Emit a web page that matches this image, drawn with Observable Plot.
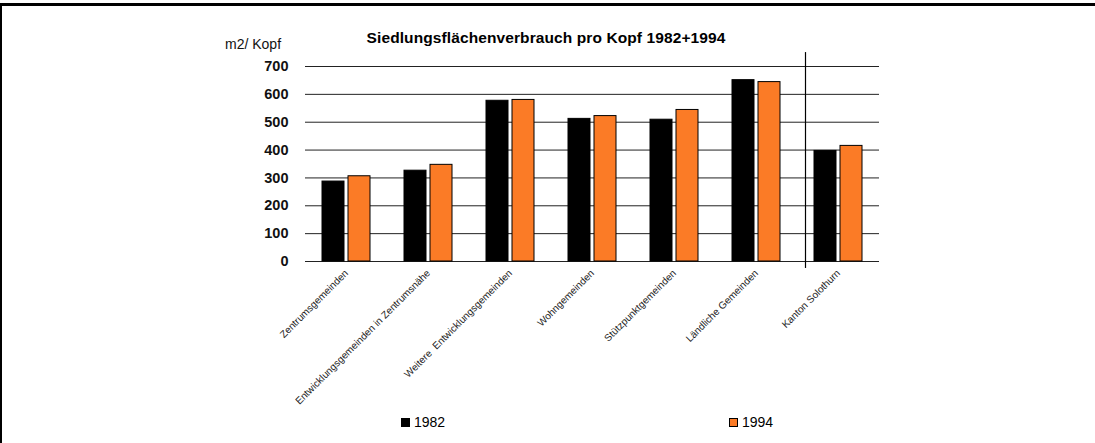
<!DOCTYPE html>
<html>
<head>
<meta charset="utf-8">
<script src="https://cdn.jsdelivr.net/npm/d3@7"></script>
<script src="https://cdn.jsdelivr.net/npm/@observablehq/plot@0.6"></script>
<style>
  body { margin: 0; background: #fff; font-family: Arial, "Liberation Sans", sans-serif; }
  #wrap { position: relative; width: 1095px; height: 443px; overflow: hidden; background: #fff; }
  #chart { position: absolute; left: 0; top: 0; }
  .frame-top { position: absolute; left: 0; top: 3px; width: 1095px; height: 3px; background: #000; }
  .frame-left { position: absolute; left: 0; top: 3px; width: 2px; height: 440px; background: #000; }
  #title { position: absolute; left: 0; width: 1092px; top: 30px; text-align: center; font-weight: bold; font-size: 15.5px; line-height: 15px; color: #000; letter-spacing: 0.1px; }
  #unit { position: absolute; left: 225px; top: 38px; font-size: 14px; line-height: 13px; color: #111; }
  .leg { position: absolute; top: 414px; font-size: 14px; line-height: 16px; color: #000; display: flex; align-items: center; }
  .sw { width: 7px; height: 7px; border: 1px solid #000; margin-right: 4px; }
  #chart svg [aria-label^="y-axis"] text { font-weight: bold; font-size: 14.5px; fill: #111; }
  #chart svg [aria-label^="fx-axis"] text { font-size: 10px; fill: #222; }
</style>
</head>
<body>
<div id="wrap">
  <div class="frame-top"></div>
  <div class="frame-left"></div>
  <div id="chart"></div>
  <div id="title"></div>
  <div id="unit"></div>
  <div class="leg" id="leg0"></div>
  <div class="leg" id="leg1"></div>
</div>
<script>
// ---- data ----
const categories = [
  "Zentrumsgemeinden",
  "Entwicklungsgemeinden in Zentrumsnähe",
  "Weitere  Entwicklungsgemeinden",
  "Wohngemeinden",
  "Stützpunktgemeinden",
  "Ländliche Gemeinden",
  "Kanton Solothurn"
];
const years = ["1982", "1994"];
const values1982 = [287, 326, 577, 512, 509, 651, 397];
const values1994 = [306, 347, 580, 522, 544, 644, 415];
const yTicks = [0, 100, 200, 300, 400, 500, 600, 700];
const seriesColors = ["#000000", "#fb7b26"];
const titleText = "Siedlungsflächenverbrauch pro Kopf 1982+1994";
const unitText = "m2/ Kopf";
const separatorCategory = "Kanton Solothurn";
const separatorSpan = [-25, 750];

// ---- table ----
const rows = [];
categories.forEach((c, i) => {
  rows.push({cat: c, year: years[0], value: values1982[i]});
  rows.push({cat: c, year: years[1], value: values1994[i]});
});

const chart = Plot.plot({
  width: 1095,
  height: 443,
  marginLeft: 304,
  marginRight: 215,
  marginTop: 66,
  marginBottom: 182,
  style: {fontFamily: "Arial, 'Liberation Sans', sans-serif", fontSize: "10px", color: "#111", background: "transparent"},
  fx: {domain: categories, padding: 0, axis: "bottom", tickRotate: -45, tickSize: 0, tickPadding: 10, label: null},
  x: {domain: years, axis: null, paddingInner: 0.17, paddingOuter: 0.62},
  y: {domain: [0, 700], ticks: yTicks, tickSize: 0, tickPadding: 17, label: null, tickFormat: d => String(d)},
  color: {domain: years, range: seriesColors},
  marks: [
    Plot.ruleY(yTicks, {stroke: "#222", strokeWidth: 1}),
    Plot.barY(rows, {fx: "cat", x: "year", y: "value", fill: "year", stroke: "#000", strokeWidth: 1}),
    Plot.ruleX([{cat: separatorCategory, year: years[0]}], {
      fx: "cat", x: "year", y1: () => separatorSpan[0], y2: () => separatorSpan[1],
      stroke: "#000", strokeWidth: 1.2, dx: -20
    })
  ]
});
document.getElementById("chart").appendChild(chart);

document.getElementById("title").textContent = titleText;
document.getElementById("unit").textContent = unitText;
const legLeft = [401, 729];
years.forEach((y, i) => {
  const el = document.getElementById("leg" + i);
  el.style.left = legLeft[i] + "px";
  const sw = document.createElement("span");
  sw.className = "sw";
  sw.style.background = seriesColors[i];
  el.appendChild(sw);
  el.appendChild(document.createTextNode(y));
});
</script>
</body>
</html>
